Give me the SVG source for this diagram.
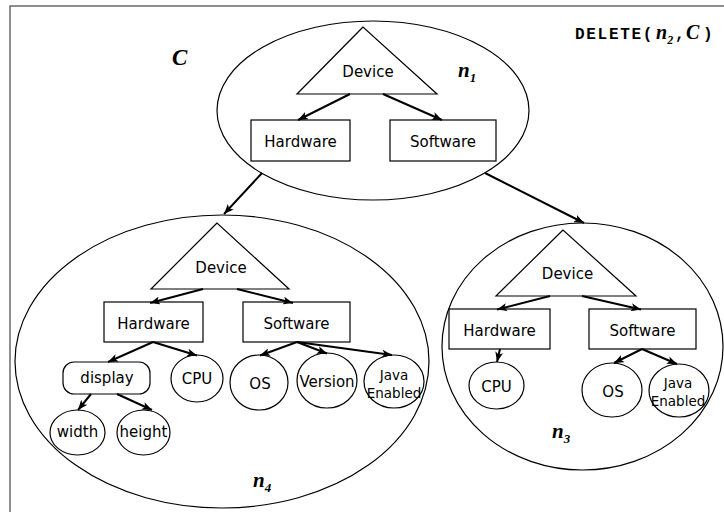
<svg xmlns="http://www.w3.org/2000/svg" width="724" height="512" viewBox="0 0 724 512">
  <defs>
    <marker id="arrow" viewBox="0 0 10 8" refX="10" refY="4" markerWidth="10" markerHeight="8" markerUnits="userSpaceOnUse" orient="auto">
      <path d="M0,0 L10,4 L0,8 L2.5,4 z" fill="#000"/>
    </marker>
  </defs>
  <style>
    .frame { fill: #fff; stroke: #444; stroke-width: 1.2; }
    .node { fill: none; stroke: #000; stroke-width: 1.2; }
    .shape { fill: #fff; stroke: #000; stroke-width: 1.2; }
    .edge { fill: none; stroke: #000; stroke-width: 2; marker-end: url(#arrow); }
    .lbl { font-family: "DejaVu Sans", "Liberation Sans", sans-serif; font-size: 15px; fill: #000; text-anchor: middle; }
    .small { font-size: 13.5px; }
    .var { font-family: "Liberation Serif", serif; font-style: italic; font-weight: bold; fill: #000; }
    .mono { font-family: "Liberation Mono", monospace; font-weight: bold; font-size: 16px; fill: #000; }
  </style>

  <rect class="frame" x="10" y="6" width="720" height="512"/>

  <!-- set label and operation -->
  <text class="var" x="172" y="65" font-size="23">C</text>
  <g id="operation">
    <text y="39"><tspan class="mono" x="575" letter-spacing="1.7">DELETE(</tspan><tspan class="var" x="656" font-size="20">n</tspan><tspan class="var" font-size="12" dy="5">2</tspan><tspan class="mono" x="675" dy="-5">,</tspan><tspan class="var" x="686" font-size="20">C</tspan><tspan class="mono" x="703">)</tspan></text>
  </g>

  <!-- n1 -->
  <g id="n1">
    <ellipse class="node" cx="373" cy="110.5" rx="156" ry="89.5"/>
    <polygon class="shape" points="363,27 297,94 437,94"/>
    <text class="lbl" x="368" y="77">Device</text>
    <rect class="shape" x="251" y="120" width="99" height="41"/>
    <text class="lbl" x="300.5" y="147">Hardware</text>
    <rect class="shape" x="390" y="120" width="106" height="41"/>
    <text class="lbl" x="443" y="147">Software</text>
    <text class="var" x="458" y="77" font-size="21">n<tspan font-size="13" dy="5">1</tspan></text>
  </g>

  <!-- n4 -->
  <g id="n4">
    <ellipse class="node" cx="222" cy="361.5" rx="207" ry="146.5"/>
    <polygon class="shape" points="217,223 151,289 289,289"/>
    <text class="lbl" x="221" y="273">Device</text>
    <rect class="shape" x="104" y="302" width="99" height="40"/>
    <text class="lbl" x="153.5" y="329">Hardware</text>
    <rect class="shape" x="243" y="302" width="107" height="40"/>
    <text class="lbl" x="296.5" y="329">Software</text>
    <rect class="shape" x="63" y="362" width="87" height="32" rx="11" ry="11"/>
    <text class="lbl" x="107" y="383">display</text>
    <ellipse class="shape" cx="197" cy="378.5" rx="26" ry="23.5"/>
    <text class="lbl" x="197" y="384">CPU</text>
    <ellipse class="shape" cx="259" cy="382.5" rx="29" ry="27.5"/>
    <text class="lbl" x="260" y="389">OS</text>
    <ellipse class="shape" cx="327" cy="380.5" rx="30" ry="27.5"/>
    <text class="lbl" x="327" y="387">Version</text>
    <ellipse class="shape" cx="394" cy="381.5" rx="30" ry="26.5"/>
    <text class="lbl small" x="394" y="380">Java</text>
    <text class="lbl small" x="394" y="398">Enabled</text>
    <ellipse class="shape" cx="77.5" cy="432.5" rx="27.5" ry="22.5"/>
    <text class="lbl" x="77.5" y="437">width</text>
    <ellipse class="shape" cx="143.5" cy="432.5" rx="26.5" ry="22.5"/>
    <text class="lbl" x="143.5" y="437">height</text>
    <text class="var" x="253" y="487" font-size="21">n<tspan font-size="13" dy="5">4</tspan></text>
  </g>

  <!-- n3 -->
  <g id="n3">
    <ellipse class="node" cx="582.5" cy="346.5" rx="140.5" ry="123.5"/>
    <polygon class="shape" points="563,230 496,296 636,296"/>
    <text class="lbl" x="567.5" y="279">Device</text>
    <rect class="shape" x="449" y="309" width="101" height="40"/>
    <text class="lbl" x="499.5" y="336">Hardware</text>
    <rect class="shape" x="589" y="309" width="107" height="40"/>
    <text class="lbl" x="642.5" y="336">Software</text>
    <ellipse class="shape" cx="496.5" cy="385.5" rx="27.5" ry="23.5"/>
    <text class="lbl" x="496.5" y="392">CPU</text>
    <ellipse class="shape" cx="612" cy="390" rx="30" ry="27"/>
    <text class="lbl" x="613" y="397">OS</text>
    <ellipse class="shape" cx="679" cy="390.5" rx="30" ry="26.5"/>
    <text class="lbl small" x="678" y="388">Java</text>
    <text class="lbl small" x="678" y="406">Enabled</text>
    <text class="var" x="552" y="438" font-size="21">n<tspan font-size="13" dy="5">3</tspan></text>
  </g>

  <!-- connectors -->
  <g id="connectors">
    <line class="edge" x1="350" y1="94" x2="298" y2="120"/>
    <line class="edge" x1="383" y1="94" x2="442" y2="120"/>
    <line class="edge" x1="262" y1="173" x2="224" y2="214"/>
    <line class="edge" x1="485" y1="173" x2="584" y2="223"/>

    <line class="edge" x1="203" y1="289" x2="150" y2="303"/>
    <line class="edge" x1="237" y1="289" x2="293" y2="303"/>
    <line class="edge" x1="153" y1="342" x2="108" y2="362"/>
    <line class="edge" x1="153" y1="342" x2="197" y2="355.5"/>
    <line class="edge" x1="297" y1="342" x2="260" y2="355.5"/>
    <line class="edge" x1="297" y1="342" x2="327" y2="353.5"/>
    <line class="edge" x1="297" y1="342" x2="392" y2="355"/>
    <line class="edge" x1="91" y1="394" x2="78" y2="410"/>
    <line class="edge" x1="117" y1="394" x2="152" y2="410"/>

    <line class="edge" x1="550" y1="296" x2="497" y2="309.5"/>
    <line class="edge" x1="582" y1="296" x2="641" y2="309.5"/>
    <line class="edge" x1="500" y1="349" x2="497" y2="362"/>
    <line class="edge" x1="642" y1="349" x2="614" y2="363"/>
    <line class="edge" x1="642" y1="349" x2="677" y2="364"/>
  </g>
</svg>
